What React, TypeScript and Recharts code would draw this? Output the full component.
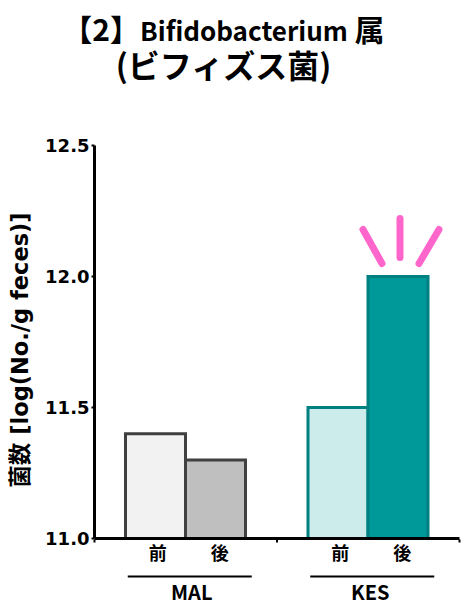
import { Bar, BarChart, Cell, XAxis, YAxis } from "recharts";

const groups = ["MAL", "KES"];
const beforeValues = [11.4, 11.5];
const afterValues = [11.3, 12.0];
const yTicks = [11.0, 11.5, 12.0, 12.5];
const beforeLabel = "前";
const afterLabel = "後";
const yAxisTitle = "菌数 [log(No./g feces)]";

const beforeFills = ["#f2f2f2", "#cceceb"];
const afterFills = ["#bfbfbf", "#009999"];
const strokes = ["#404040", "#008080"];

const data = groups.map((group, i) => ({
  group,
  before: beforeValues[i],
  after: afterValues[i],
}));

const LATIN = "'DejaVu Sans', sans-serif";
const CJK = "'Noto Sans CJK JP', sans-serif";
const MIXED = "'DejaVu Sans', 'Noto Sans CJK JP', sans-serif";

function GroupTick({ x, y, payload, index }: any) {
  const half = 182.5 / 2;
  const baseY = y - 7;
  return (
    <g>
      <line x1={x - half} x2={x - half} y1={baseY} y2={baseY + 3} stroke="#000" strokeWidth={2} />
      {index === groups.length - 1 && (
        <line x1={x + half} x2={x + half} y1={baseY} y2={baseY + 3} stroke="#000" strokeWidth={2} />
      )}
      <text x={x - 28} y={baseY + 20} textAnchor="middle" fontFamily={CJK} fontWeight={700} fontSize={18} fill="#000">
        {beforeLabel}
      </text>
      <text x={x + 34} y={baseY + 20} textAnchor="middle" fontFamily={CJK} fontWeight={700} fontSize={18} fill="#000">
        {afterLabel}
      </text>
      <line x1={x - 58} x2={x + 66} y1={baseY + 37} y2={baseY + 37} stroke="#000" strokeWidth={2} />
      <text x={x + (index === 0 ? 6 : 2)} y={baseY + 60} textAnchor="middle" fontFamily={CJK} fontWeight={700} fontSize={20} fill="#000">
        {payload.value}
      </text>
    </g>
  );
}

// pink "up" burst above the KES after bar
function Burst({ x, y, width, index }: any) {
  if (index !== 1) return null;
  const cx = x + width / 2;
  const rays = [
    [-35, -47, -16, -13],
    [2, -58, 2, -19],
    [41, -47, 21, -13],
  ];
  return (
    <g stroke="#ff66cc" strokeWidth={7} strokeLinecap="round">
      {rays.map((r, i) => (
        <line key={i} x1={cx + r[0]} y1={y + r[1]} x2={cx + r[2]} y2={y + r[3]} />
      ))}
    </g>
  );
}

export default function App() {
  return (
    <div style={{ position: "absolute", left: 0, top: 0, width: 465, height: 611, background: "#fff", overflow: "hidden" }}>
      <div
        style={{
          position: "absolute",
          left: 0,
          top: 11,
          width: 447,
          textAlign: "center",
          fontFamily: CJK,
          fontWeight: 700,
          fontSize: 30,
          lineHeight: "35px",
          color: "#000",
          whiteSpace: "nowrap",
        }}
      >
        <div>
          【2】<span style={{ fontSize: 26 }}>Bifidobacterium</span> 属
        </div>
        <div style={{ fontSize: 32 }}>(ビフィズス菌)</div>
      </div>
      <BarChart
        width={465}
        height={611}
        data={data}
        margin={{ top: 145.5, right: 5.5, bottom: 0, left: 0 }}
        barCategoryGap={31}
        barGap={0}
      >
        <XAxis
          dataKey="group"
          height={72.5}
          axisLine={{ stroke: "#000", strokeWidth: 3 }}
          tickLine={false}
          tick={<GroupTick />}
          interval={0}
        />
        <YAxis
          width={94.5}
          domain={[11, 12.5]}
          ticks={yTicks}
          tickFormatter={(v: number) => v.toFixed(1)}
          axisLine={{ stroke: "#000", strokeWidth: 3 }}
          tickLine={{ stroke: "#000", strokeWidth: 2 }}
          tickSize={3}
          tickMargin={1}
          tick={{ fill: "#000", fontFamily: LATIN, fontWeight: 700, fontSize: 18, dx: -1 }}
          label={{
            value: yAxisTitle,
            angle: -90,
            position: "insideLeft",
            offset: 20,
            dy: 8,
            style: { fill: "#000", fontFamily: MIXED, fontWeight: 700, fontSize: 22.5, textAnchor: "middle" },
          }}
        />
        <Bar dataKey="before" isAnimationActive={false} strokeWidth={3}>
          {groups.map((g, i) => (
            <Cell key={g} fill={beforeFills[i]} stroke={strokes[i]} />
          ))}
        </Bar>
        <Bar dataKey="after" isAnimationActive={false} strokeWidth={3} label={<Burst />}>
          {groups.map((g, i) => (
            <Cell key={g} fill={afterFills[i]} stroke={strokes[i]} />
          ))}
        </Bar>
      </BarChart>
    </div>
  );
}
